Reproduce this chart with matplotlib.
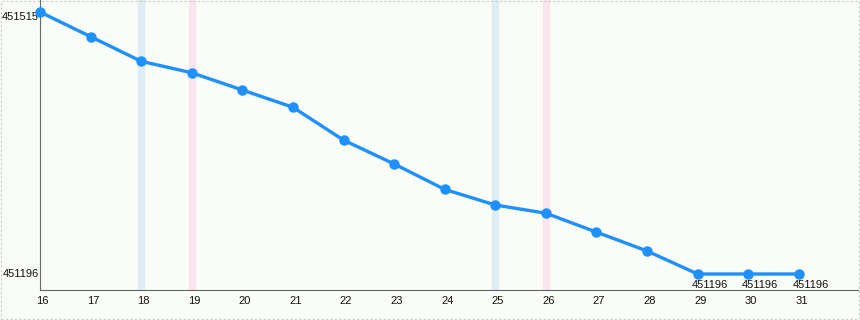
import matplotlib
matplotlib.use("Agg")
import matplotlib.pyplot as plt
import matplotlib.patches as mpatches
from matplotlib.transforms import ScaledTranslation

plt.rcParams['font.family'] = ['Liberation Sans', 'DejaVu Sans']

# values
days = [16, 17, 18, 19, 20, 21, 22, 23, 24, 25, 26, 27, 28, 29, 30, 31]
values = [451515, 451485, 451455, 451441, 451420, 451399, 451359, 451330,
          451299, 451280, 451270, 451247, 451224, 451196, 451196, 451196]
blue_bands = [18, 25]
pink_bands = [19, 26]
y_ticks = [451196, 451515]

bg = '#fafcf7'
fs = 8
fig = plt.figure(figsize=(8.6, 3.2), dpi=100, facecolor=bg)
ax = fig.add_axes([40 / 860, 30 / 320, 818 / 860, 290 / 320])
ax.set_facecolor(bg)

for d in blue_bands:
    ax.axvspan(d - 0.06, d + 0.06, color='#dfeef4', zorder=1)
for d in pink_bands:
    ax.axvspan(d - 0.06, d + 0.06, color='#fbe4ee', zorder=1)

ax.plot(days, values, color='#1e90ff', linewidth=2.4, marker='o',
        markersize=6.5, zorder=3, clip_on=False)

# labels under the flat tail
for d, v in zip(days, values):
    if d >= 29:
        ax.annotate(str(v), xy=(d, v), xytext=(-4.5, -4), textcoords='offset points',
                    ha='left', va='top', fontsize=fs, color='#111111')

ax.set_xlim(16, 32.17)
ax.set_ylim(451176.5, 451529.6)

ax.set_xticks(days)
ax.set_xticklabels([str(d) for d in days], fontsize=fs, color='#111111')
ax.tick_params(axis='x', length=0, pad=4)
shift = ScaledTranslation(2.5 / 100, 0, fig.dpi_scale_trans)
for lbl in ax.get_xticklabels():
    lbl.set_transform(lbl.get_transform() + shift)

ax.set_yticks(y_ticks)
ax.set_yticklabels([str(t) for t in y_ticks], fontsize=fs, color='#111111')
ax.tick_params(axis='y', length=0, pad=1)
ylbls = ax.get_yticklabels()
ylbls[0].set_va('center')
ylbls[1].set_va('top')

for s in ['top', 'right']:
    ax.spines[s].set_visible(False)
ax.spines['left'].set_color('#666666')
ax.spines['bottom'].set_color('#666666')
ax.spines['left'].set_linewidth(0.8)
ax.spines['bottom'].set_linewidth(0.8)

# dashed outer border
fig.patches.append(mpatches.Rectangle((0.0006, 0.0016), 0.9988, 0.9968,
                                      transform=fig.transFigure, fill=False,
                                      edgecolor='#cccccc', linewidth=0.8,
                                      linestyle=(0, (2, 2))))

fig.savefig('out.png', dpi=100, facecolor=fig.get_facecolor())
